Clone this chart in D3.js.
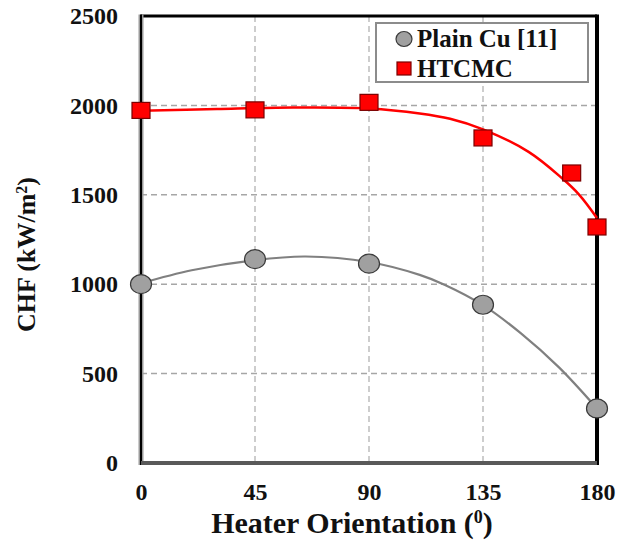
<!DOCTYPE html>
<html>
<head>
<meta charset="utf-8">
<script src="https://cdn.jsdelivr.net/npm/d3@7"></script>
<style>
    body { margin: 0; background: #fff; }
    text { font-family: "Liberation Serif", "Times New Roman", serif; font-weight: bold; fill: #111; }
</style>
</head>
<body>
<script>
// measured points
let plainAngle = [0, 45, 90, 135, 180],
    plainCHF = [1000, 1140, 1115, 885, 305];
let htcmcAngle = [0, 45, 90, 135, 170, 180],
    htcmcCHF = [1972, 1975, 2017, 1818, 1622, 1320];

// trend lines
let plainTrendAngle = [0, 20, 45, 65, 90, 110, 120, 135, 150, 165, 180],
    plainTrendCHF = [1005, 1078, 1135, 1155, 1124, 1052, 996, 883, 725, 535, 305];
let htcmcTrendAngle = [0, 30, 60, 90, 110, 122, 135, 153, 166, 173, 180],
    htcmcTrendCHF = [1970, 1980, 1988, 1983, 1955, 1925, 1866, 1740, 1595, 1500, 1370];

let xTicks = [0, 45, 90, 135, 180],
    yTicks = [0, 500, 1000, 1500, 2000, 2500];
let seriesNames = ['Plain Cu [11]', 'HTCMC'];

let width = 618, height = 543,
    margins = {top: 16, right: 21, bottom: 80, left: 141};
let w = width - margins.left - margins.right,
    h = height - margins.top - margins.bottom;

let svgTop = d3.select('body').append('svg')
    .attr('width', width)
    .attr('height', height)
    .attr('font-family', '"Liberation Serif", serif');
let svg = svgTop.append('g')
    .attr('transform', `translate(${margins.left},${margins.top})`);

let xScale = d3.scaleLinear().domain([0, 180]).range([0, w]),
    yScale = d3.scaleLinear().domain([0, 2500]).range([h, 0]);

// grid
svg.selectAll('line.hgrid')
    .data(yTicks.slice(1, -1))
    .enter().append('line')
    .attr('x1', 0).attr('x2', w)
    .attr('y1', d => yScale(d)).attr('y2', d => yScale(d))
    .attr('stroke', '#a6a6a6').attr('stroke-width', 1.5)
    .attr('stroke-dasharray', '6,4');
svg.selectAll('line.vgrid')
    .data(xTicks.slice(1, -1))
    .enter().append('line')
    .attr('x1', d => xScale(d)).attr('x2', d => xScale(d))
    .attr('y1', 0).attr('y2', h)
    .attr('stroke', '#bdbdbd').attr('stroke-width', 1.5)
    .attr('stroke-dasharray', '6,4');

// frame
svg.append('line').attr('x1', 0).attr('x2', w).attr('y1', 0).attr('y2', 0)
    .attr('stroke', '#000').attr('stroke-width', 3);
svg.append('line').attr('x1', w).attr('x2', w).attr('y1', -1.5).attr('y2', h + 2)
    .attr('stroke', '#000').attr('stroke-width', 4);
svg.append('line').attr('x1', 0).attr('x2', 0).attr('y1', -1.5).attr('y2', h + 2)
    .attr('stroke', '#9a9a9a').attr('stroke-width', 5);
svg.append('line').attr('x1', 0).attr('x2', 0).attr('y1', -1.5).attr('y2', h + 2)
    .attr('stroke', '#000').attr('stroke-width', 2);
svg.append('line').attr('x1', 0).attr('x2', w).attr('y1', h).attr('y2', h)
    .attr('stroke', '#595959').attr('stroke-width', 4);

// axes labels
let xAxis = svg.append('g')
    .attr('transform', `translate(0,${h})`)
    .call(d3.axisBottom(xScale).tickValues(xTicks).tickSize(0).tickPadding(20).tickFormat(d3.format('d')));
let yAxis = svg.append('g')
    .call(d3.axisLeft(yScale).tickValues(yTicks).tickSize(0).tickPadding(23).tickFormat(d3.format('d')));
[xAxis, yAxis].forEach(a => {
    a.select('.domain').remove();
    a.attr('font-family', null).attr('font-size', null);
    a.selectAll('text').attr('font-size', 24).attr('fill', '#111');
});

svg.append('text')
    .attr('x', 211).attr('y', h + 70)
    .attr('text-anchor', 'middle')
    .attr('font-size', 30)
    .html('Heater Orientation (<tspan baseline-shift="super" font-size="18">0</tspan>)');
svg.append('text')
    .attr('transform', `translate(${-106},${h / 2 + 15}) rotate(-90)`)
    .attr('text-anchor', 'middle')
    .attr('font-size', 26)
    .html('CHF (kW/m<tspan baseline-shift="super" font-size="16">2</tspan>)');

// trend lines
let line = d3.line()
    .x(d => xScale(d[0]))
    .y(d => yScale(d[1]))
    .curve(d3.curveCatmullRom);
svg.append('path')
    .datum(d3.zip(plainTrendAngle, plainTrendCHF))
    .attr('d', line)
    .attr('fill', 'none').attr('stroke', '#808080').attr('stroke-width', 2.2);
svg.append('path')
    .datum(d3.zip(htcmcTrendAngle, htcmcTrendCHF))
    .attr('d', line)
    .attr('fill', 'none').attr('stroke', '#ff0000').attr('stroke-width', 2.5);

// markers
svg.selectAll('ellipse.plain')
    .data(d3.zip(plainAngle, plainCHF))
    .enter().append('ellipse')
    .attr('cx', d => xScale(d[0])).attr('cy', d => yScale(d[1]))
    .attr('rx', 10.5).attr('ry', 9.5)
    .attr('fill', '#a0a0a0').attr('stroke', '#3a3a3a').attr('stroke-width', 1.2);
svg.selectAll('rect.htcmc')
    .data(d3.zip(htcmcAngle, htcmcCHF))
    .enter().append('rect')
    .attr('x', d => xScale(d[0]) - 9).attr('y', d => yScale(d[1]) - 8)
    .attr('width', 18).attr('height', 16)
    .attr('fill', '#ff0000').attr('stroke', '#7a0000').attr('stroke-width', 1.2);

// legend
let legend = svgTop.append('g');
legend.append('rect')
    .attr('x', 376).attr('y', 23).attr('width', 212).attr('height', 59)
    .attr('fill', '#fff').attr('stroke', '#8c8c8c').attr('stroke-width', 2);
legend.append('ellipse')
    .attr('cx', 404).attr('cy', 39).attr('rx', 8).attr('ry', 7.5)
    .attr('fill', '#a0a0a0').attr('stroke', '#3a3a3a').attr('stroke-width', 1.2);
legend.append('rect')
    .attr('x', 397).attr('y', 62).attr('width', 14).attr('height', 13)
    .attr('fill', '#ff0000').attr('stroke', '#7a0000').attr('stroke-width', 1.2);
legend.selectAll('text.leg')
    .data(seriesNames)
    .enter().append('text')
    .attr('x', 417).attr('y', (d, i) => 47 + i * 30)
    .attr('font-size', 25)
    .text(d => d);
</script>
</body>
</html>
